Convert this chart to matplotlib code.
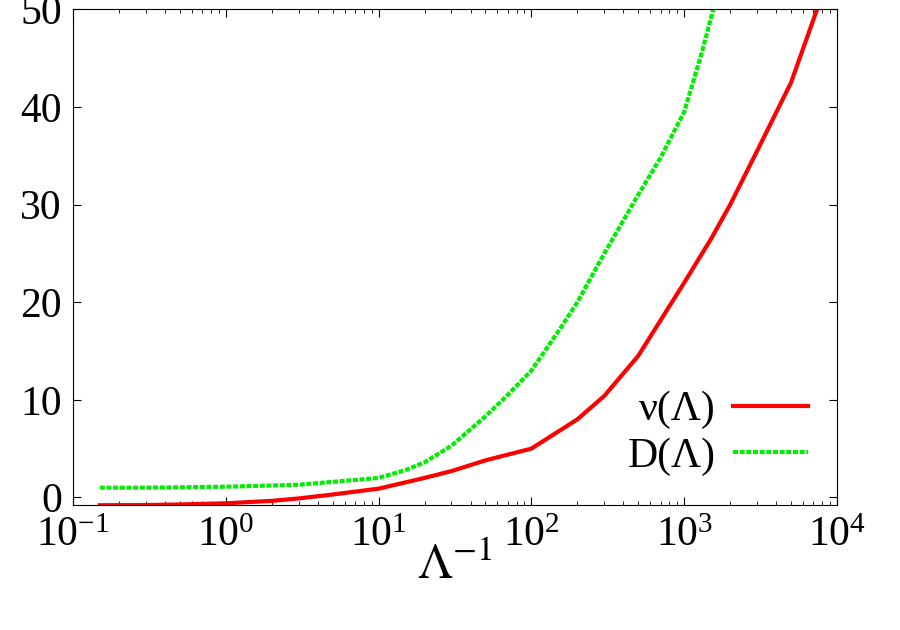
import matplotlib
matplotlib.use('Agg')
import matplotlib.pyplot as plt

plt.rcParams['font.family'] = ['Liberation Serif', 'DejaVu Serif']
plt.rcParams['mathtext.fontset'] = 'stix'

# values
lam_inv = [0.15, 0.3, 0.5, 1, 2, 3, 5, 10, 20, 30, 50, 100, 200, 300, 500,
           1000, 1500, 2000, 3000, 5000, 7400]
nu = [-0.8, -0.78, -0.72, -0.6, -0.35, -0.1, 0.3, 0.9, 2.0, 2.7, 3.8, 5.0,
      8.0, 10.4, 14.5, 22.0, 26.5, 30.0, 35.5, 42.5, 50.0]
lam_inv_d = [0.15, 0.3, 1, 3, 10, 15, 20, 30, 50, 70, 100, 150, 200, 300,
             500, 700, 1000, 1300, 1550]
D = [1.0, 1.0, 1.1, 1.3, 2.0, 2.8, 3.6, 5.3, 8.3, 10.5, 13.0, 17.0, 20.0,
     25.0, 31.0, 34.8, 39.5, 45.5, 50.0]

fig = plt.figure(figsize=(9, 6.3), dpi=100)
ax = fig.add_axes([0.081, 0.198, 0.849, 0.787])
ax.plot(lam_inv, nu, color='#ff0000', lw=3, label='ν(Λ)')
ax.plot(lam_inv_d, D, color='#00ee00', lw=3, ls=(0, (1.2, 0.4)), label='D(Λ)')
ax.set_xscale('log')
ax.set_xlim(0.1, 1e4)
ax.set_ylim(-0.8, 50)
ax.set_yticks([0, 10, 20, 30, 40, 50])
ax.tick_params(labelsize=30, direction='in', length=6, top=True, right=True, pad=8)
ax.tick_params(which='minor', direction='in', length=3, top=True, right=True)
ax.set_xlabel(r'$\Lambda^{-1}$', fontsize=36, labelpad=-8)
ax.legend(loc='lower right', fontsize=30, frameon=False, markerfirst=False,
          handlelength=1.8, borderaxespad=0.3, labelspacing=0.2, handletextpad=0.4)
fig.savefig('out.png')
